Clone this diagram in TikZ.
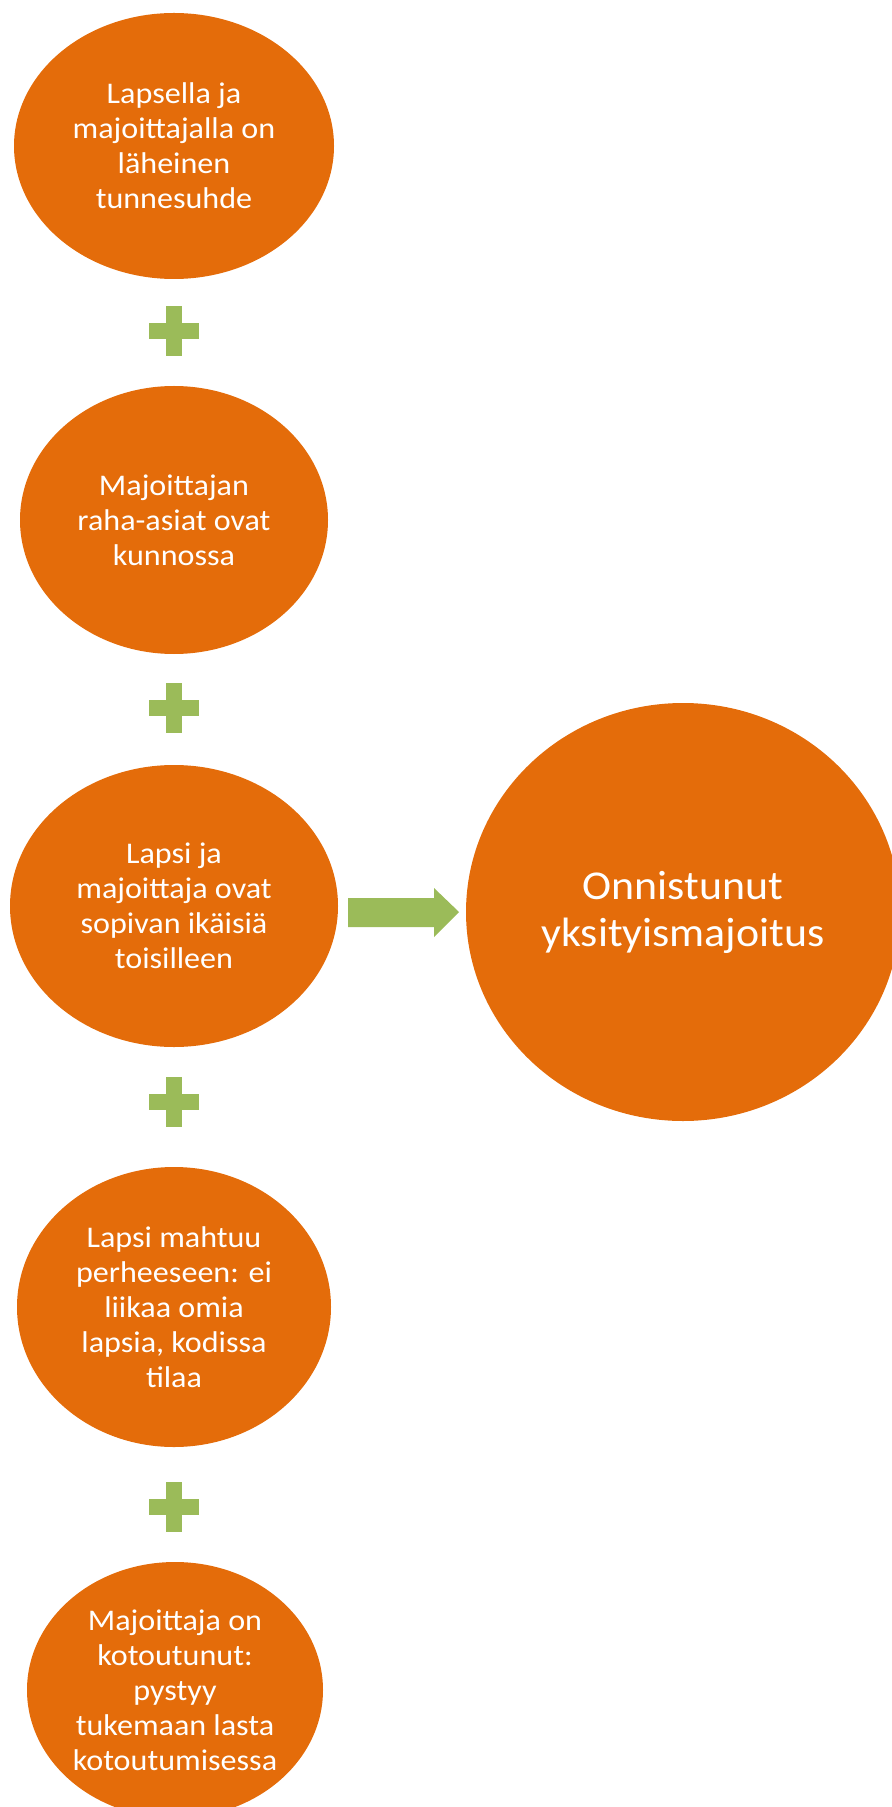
\documentclass[tikz,border=0pt]{standalone}
\usepackage{fontspec}
\setmainfont{Carlito}[FakeStretch=1.07]
\usepackage{xcolor}
\usepackage{tikz}

\definecolor{orangefill}{HTML}{E46C0A}
\definecolor{greenfill}{HTML}{9BBB59}

\tikzset{
  bubble/.style={ellipse, fill=orangefill, text=white, inner sep=0pt, align=center,
                 font=\fontsize{15}{17.5}\selectfont},
  goal/.style={bubble, font=\fontsize{20.5}{23.5}\selectfont},
  plusbar/.style={fill=greenfill, draw=none}
}
\usetikzlibrary{shapes.geometric}

\newcommand{\plussign}[2]{%
  \fill[plusbar] (#1-8,#2-25) rectangle (#1+8,#2+25);
  \fill[plusbar] (#1-25,#2-8) rectangle (#1+25,#2+8);
}

\begin{document}
\begin{tikzpicture}[x=0.5pt, y=-0.5pt]
                        \useasboundingbox (0,0) rectangle (891,1807);

                        \node (suhde) at (174, 146) [bubble, minimum width=160pt, minimum height=133pt]
                              {Lapsella ja\\majoittajalla on\\läheinen\\tunnesuhde};
                        \node (raha) at (174, 520) [bubble, minimum width=154pt, minimum height=134pt]
                              {Majoittajan\\raha-asiat ovat\\kunnossa};
                        \node (ika) at (174, 906) [bubble, minimum width=164pt, minimum height=141pt]
                              {Lapsi ja\\majoittaja ovat\\sopivan ikäisiä\\toisilleen};
                        \node (tila) at (174, 1307) [bubble, minimum width=157pt, minimum height=140pt]
                              {Lapsi mahtuu\\perheeseen: ei\\liikaa omia\\lapsia, kodissa\\tilaa};
                        \node (kotout) at (175, 1690) [bubble, minimum width=148pt, minimum height=128pt]
                              {Majoittaja on\\kotoutunut:\\pystyy\\tukemaan lasta\\kotoutumisessa};

                        \node (tulos) at (683, 912) [goal, minimum width=217pt, minimum height=209pt]
                              {Onnistunut\\yksityismajoitus};

                        % plus signs between the bubbles
                        \plussign{174}{331}
                        \plussign{174}{708}
                        \plussign{174}{1102}
                        \plussign{174}{1507}

                        % block arrow to the result
                        \fill[greenfill] (348, 898) -- (434, 898) -- (434, 888) -- (459, 912)
                              -- (434, 937) -- (434, 927) -- (348, 927) -- cycle;
                    \end{tikzpicture}
\end{document}
